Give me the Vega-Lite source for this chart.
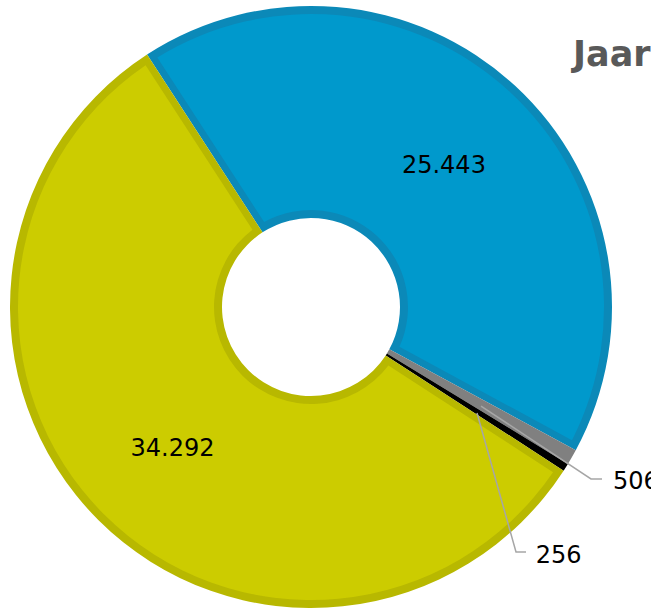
{
  "$schema": "https://vega.github.io/schema/vega-lite/v6.json",
  "width": 622,
  "height": 614,
  "autosize": {"type": "none"},
  "padding": {"left": 0, "top": 0, "right": 29, "bottom": 0},
  "background": "white",
  "title": {
    "text": "Jaaroverzicht",
    "anchor": "start",
    "dx": 573,
    "dy": 101,
    "offset": 0,
    "baseline": "alphabetic",
    "font": "DejaVu Sans",
    "fontSize": 35,
    "fontWeight": "bold",
    "color": "#595959"
  },
  "config": {"view": {"stroke": null}},
  "datasets": {
    "slices": [
      {"segment": "A", "value": 25443, "label": "25.443", "volgorde": 1},
      {"segment": "B", "value": 506, "label": "506", "volgorde": 2},
      {"segment": "C", "value": 256, "label": "256", "volgorde": 3},
      {"segment": "D", "value": 34292, "label": "34.292", "volgorde": 4}
    ],
    "leaders": [
      {"label": "506", "step": 1, "x": 0.5648, "y": -0.3289},
      {"label": "506", "step": 2, "x": 0.9302, "y": -0.5714},
      {"label": "506", "step": 3, "x": 0.9668, "y": -0.5714},
      {"label": "256", "step": 1, "x": 0.5515, "y": -0.3522},
      {"label": "256", "step": 2, "x": 0.6811, "y": -0.8140},
      {"label": "256", "step": 3, "x": 0.7143, "y": -0.8140}
    ],
    "callouts": [
      {"label": "506", "x": 1.0033, "y": -0.5748},
      {"label": "256", "x": 0.7465, "y": -0.8206}
    ]
  },
  "resolve": {"scale": {"color": "independent"}},
  "layer": [
    {
      "data": {"name": "slices"},
      "mark": {"type": "arc", "outerRadius": 301, "innerRadius": 89},
      "encoding": {
        "theta": {"field": "value", "type": "quantitative", "stack": true, "scale": {"range": [-0.576, 5.7072]}},
        "order": {"field": "volgorde", "type": "quantitative"},
        "color": {
          "field": "segment",
          "type": "nominal",
          "scale": {"domain": ["A", "B", "C", "D"], "range": ["#0b89b8", "#808080", "#000000", "#b8b800"]},
          "legend": null
        }
      }
    },
    {
      "data": {"name": "slices"},
      "mark": {"type": "arc", "outerRadius": 293, "innerRadius": 97, "padAngle": 0.0453},
      "encoding": {
        "theta": {"field": "value", "type": "quantitative", "stack": true, "scale": {"range": [-0.576, 5.7072]}},
        "order": {"field": "volgorde", "type": "quantitative"},
        "color": {
          "field": "segment",
          "type": "nominal",
          "scale": {"domain": ["A", "B", "C", "D"], "range": ["#0099cc", "#808080", "#000000", "#cccc00"]},
          "legend": null
        }
      }
    },
    {
      "data": {"name": "slices"},
      "mark": {"type": "text", "radius": 196, "dy": 3, "font": "DejaVu Sans", "fontSize": 24, "color": "#000000", "align": "center", "baseline": "middle"},
      "encoding": {
        "theta": {"field": "value", "type": "quantitative", "stack": true, "scale": {"range": [-0.576, 5.7072]}},
        "order": {"field": "volgorde", "type": "quantitative"},
        "text": {"condition": {"test": "datum.value > 1000", "field": "label"}, "value": ""}
      }
    },
    {
      "data": {"name": "leaders"},
      "mark": {"type": "line", "color": "#a6a6a6", "strokeWidth": 1.5},
      "encoding": {
        "x": {"field": "x", "type": "quantitative", "scale": {"domain": [-1.0332, 1.0332], "nice": false, "zero": false}, "axis": null},
        "y": {"field": "y", "type": "quantitative", "scale": {"domain": [-1.0199, 1.0199], "nice": false, "zero": false}, "axis": null},
        "detail": {"field": "label"},
        "order": {"field": "step", "type": "quantitative"}
      }
    },
    {
      "data": {"name": "callouts"},
      "mark": {"type": "text", "dy": 2, "font": "DejaVu Sans", "fontSize": 24, "color": "#000000", "align": "left", "baseline": "middle"},
      "encoding": {
        "x": {"field": "x", "type": "quantitative", "scale": {"domain": [-1.0332, 1.0332], "nice": false, "zero": false}, "axis": null},
        "y": {"field": "y", "type": "quantitative", "scale": {"domain": [-1.0199, 1.0199], "nice": false, "zero": false}, "axis": null},
        "text": {"field": "label"}
      }
    }
  ]
}
